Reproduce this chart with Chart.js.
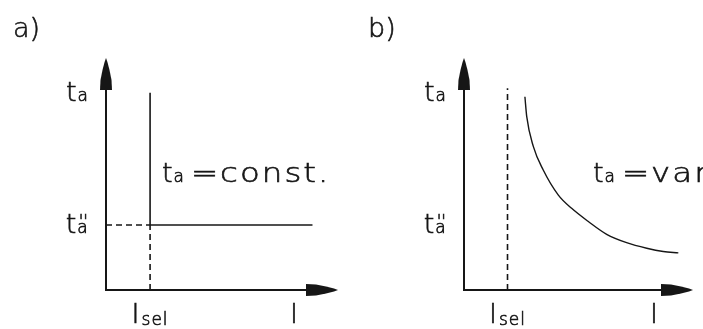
<!DOCTYPE html>
<html>
<head>
<meta charset="utf-8">
<script src="https://cdn.jsdelivr.net/npm/chart.js@4.4.1/dist/chart.umd.min.js"></script>
<style>
html,body{margin:0;padding:0;background:#fff;}
#wrap{position:relative;width:703px;height:329px;overflow:hidden;background:#fff;}
#wrap canvas{position:absolute;top:0;}
#cA{left:0;}
#cB{left:352px;}
</style>
</head>
<body>
<div id="wrap">
  <canvas id="cA" width="352" height="329"></canvas>
  <canvas id="cB" width="351" height="329"></canvas>
</div>
<script>
// both diagrams use the same 0..10 units on I and t
const AX_MAX = 10;
const I_SEL = 1.9;     // I_sel
const T_A2 = 2.8;      // t_a''
const T_TOP = 8.5;     // t_a

// a) constant time
const aVertTop = 8.5;
const aHorizEnd = 8.9;
const aIMax = 8.1;

// b) variable time curve
const bDashTop = 8.7;
const bIMax = 8.3;
const bCurveI = [2.66, 2.74, 3.03, 3.46, 4.12, 4.70, 5.43, 6.23, 7.10, 7.98, 8.70, 9.36];
const bCurveT = [8.33, 7.47, 6.18, 5.17, 4.09, 3.52, 2.95, 2.40, 2.04, 1.80, 1.66, 1.60];

const INK = "#161616";
const DASH = [6, 4];
const BIG = 27, SUB = 17;

const font = sz => `200 ${sz}px 'DejaVu Sans', 'Liberation Sans', sans-serif`;

// text pieces: main glyphs, subscripts, primes over the subscript
const TA   = [{s:"t"}, {s:"a", size:SUB, dx:1}];
const TA2  = [{s:"t"}, {s:"a", size:SUB, dx:1}, {s:"''", size:SUB, dx:-9, dy:-6}];
const ISEL = [{s:"I"}, {s:"sel", size:SUB, dx:2, dy:2, ls:1}];
const IMAX = [{s:"I"}];

function measureParts(ctx, parts){
  let w = 0;
  for(const p of parts){
    ctx.font = font(p.size||BIG);
    ctx.letterSpacing = (p.ls||0)+"px";
    w += (p.dx||0) + ctx.measureText(p.s).width*(p.sx||1);
  }
  return w;
}
function drawParts(ctx, x, y, parts){
  let cx = x;
  for(const p of parts){
    const sx = p.sx||1;
    ctx.font = font(p.size||BIG);
    ctx.letterSpacing = (p.ls||0)+"px";
    cx += (p.dx||0);
    ctx.save();
    ctx.translate(cx, y + (p.dy||0));
    ctx.scale(sx, 1);
    ctx.lineWidth = 0.6;
    ctx.fillText(p.s, 0, 0);
    ctx.strokeText(p.s, 0, 0);
    ctx.restore();
    cx += ctx.measureText(p.s).width*sx;
  }
  ctx.letterSpacing = "0px";
}

function arrowHead(ctx, tipX, tipY, dx, dy){
  const prof = [[0,6],[10,5.5],[20,3.5],[28,1.4],[32,0]];
  const nx = -dy, ny = dx;
  const bx = tipX - dx*32, by = tipY - dy*32;
  ctx.beginPath();
  prof.forEach(([d,w],i)=>{
    const x = bx+dx*d+nx*w, y = by+dy*d+ny*w;
    i ? ctx.lineTo(x,y) : ctx.moveTo(x,y);
  });
  for(let i=prof.length-2;i>=0;i--){
    const [d,w] = prof[i];
    ctx.lineTo(bx+dx*d-nx*w, by+dy*d-ny*w);
  }
  ctx.closePath();
  ctx.fill();
}

const sketchAxes = {
  id: "sketchAxes",
  afterDraw(chart, args, o){
    const {ctx, scales:{x, y}} = chart;
    const x0 = x.getPixelForValue(0), y0 = y.getPixelForValue(0);
    const xt = x.getPixelForValue(AX_MAX), yt = y.getPixelForValue(AX_MAX);
    ctx.save();
    ctx.strokeStyle = INK; ctx.fillStyle = INK;
    ctx.lineWidth = 2;
    ctx.beginPath();
    ctx.moveTo(x0, yt+30); ctx.lineTo(x0, y0); ctx.lineTo(xt-30, y0);
    ctx.stroke();
    arrowHead(ctx, x0, yt, 0, -1);
    arrowHead(ctx, xt, y0, 1, 0);

    ctx.textBaseline = "alphabetic";
    drawParts(ctx, o.titleX, 37, [{s:o.title}]);
    for(const t of o.yTicks){
      const w = measureParts(ctx, t.parts);
      drawParts(ctx, x0 - 18 - w, y.getPixelForValue(t.v) + 8, t.parts);
    }
    for(const t of o.xTicks){
      const w = measureParts(ctx, t.parts);
      drawParts(ctx, x.getPixelForValue(t.v) - w/2, y0 + 33, t.parts);
    }
    for(const n of o.notes){
      drawParts(ctx, x.getPixelForValue(n.x), y.getPixelForValue(n.y), n.parts);
    }
    ctx.restore();
  }
};

function lineDs(points, dash){
  return {data:points, showLine:true, borderColor:INK, borderWidth:1.6, pointRadius:0,
          borderDash:dash||[], tension:0, fill:false};
}

function options(pad, axes){
  return {
    responsive:false, animation:false, events:[],
    layout:{padding:pad},
    scales:{
      x:{type:"linear", min:0, max:AX_MAX, display:false},
      y:{type:"linear", min:0, max:AX_MAX, display:false}
    },
    plugins:{legend:{display:false}, tooltip:{enabled:false}, sketchAxes:axes}
  };
}

new Chart(document.getElementById("cA"), {
  type:"scatter",
  data:{datasets:[
    lineDs([{x:I_SEL,y:T_A2},{x:I_SEL,y:aVertTop}]),
    lineDs([{x:I_SEL,y:0},{x:I_SEL,y:T_A2}], DASH),
    lineDs([{x:0,y:T_A2},{x:I_SEL,y:T_A2}], DASH),
    lineDs([{x:I_SEL,y:T_A2},{x:aHorizEnd,y:T_A2}])
  ]},
  options:options({left:106, right:14, top:58, bottom:39}, {
    title:"a)", titleX:13,
    yTicks:[{v:T_TOP, parts:TA}, {v:T_A2, parts:TA2}],
    xTicks:[{v:I_SEL, parts:ISEL}, {v:aIMax, parts:IMAX}],
    notes:[{x:2.41, y:4.66, parts:[{s:"t"}, {s:"a", size:SUB, dx:1}, {s:"=const.", dx:7, ls:1.7, sx:1.2}]}]
  }),
  plugins:[sketchAxes]
});

new Chart(document.getElementById("cB"), {
  type:"scatter",
  data:{datasets:[
    lineDs([{x:I_SEL,y:0},{x:I_SEL,y:bDashTop}], DASH),
    Object.assign(lineDs(bCurveI.map((v,i)=>({x:v, y:bCurveT[i]}))), {cubicInterpolationMode:"monotone", borderWidth:1.4})
  ]},
  options:options({left:112, right:10, top:58, bottom:39}, {
    title:"b)", titleX:16,
    yTicks:[{v:T_TOP, parts:TA}, {v:T_A2, parts:TA2}],
    xTicks:[{v:I_SEL, parts:ISEL}, {v:bIMax, parts:IMAX}],
    notes:[{x:5.63, y:4.66, parts:[{s:"t"}, {s:"a", size:SUB, dx:1}, {s:"=var", dx:7, ls:1.7, sx:1.2}]}]
  }),
  plugins:[sketchAxes]
});
</script>
</body>
</html>
